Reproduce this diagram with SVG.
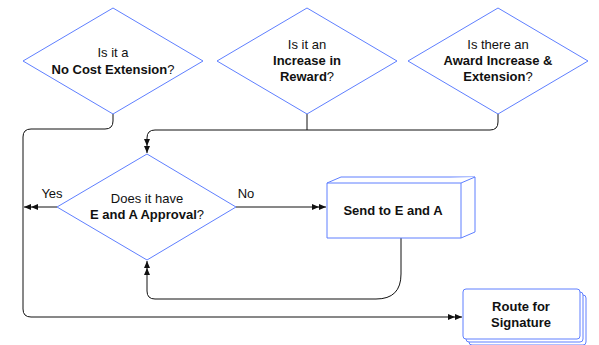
<svg xmlns="http://www.w3.org/2000/svg" width="599" height="345" viewBox="0 0 599 345">
<style>
.shape{fill:#ffffff;stroke:#5f7fff;stroke-width:1}
.t{font-family:"Liberation Sans",Arial,Helvetica,sans-serif;font-size:13px;fill:#111111;text-anchor:middle}
.b{font-weight:bold}
.edge{fill:none;stroke:#111111;stroke-width:1}
</style>
<defs>
<marker id="dbl" viewBox="0 0 14 8" refX="14" refY="4" markerWidth="14" markerHeight="8" markerUnits="userSpaceOnUse" orient="auto">
<path d="M0,1 L7,4 L0,7 Z M7,1 L14,4 L7,7 Z" fill="#111111"/>
</marker>
</defs>
<rect width="599" height="345" fill="#ffffff"/>
<g id="connectors">
<path class="edge" d="M113,114 L113,121 Q113,129 105,129 L31,129 Q23,129 23,137 L23,309 Q23,317 31,317 L462,317" marker-end="url(#dbl)"/>
<path class="edge" d="M57,207 L24,207" marker-end="url(#dbl)"/>
<path class="edge" d="M307,114 L307,130"/>
<path class="edge" d="M498,114 L498,122 Q498,130 490,130 L155,130 Q147,130 147,138 L147,153" marker-end="url(#dbl)"/>
<path class="edge" d="M236,207 L326,207" marker-end="url(#dbl)"/>
<path class="edge" d="M401,238 L401,274 Q401,299 376,299 L155,299 Q147,299 147,291 L147,261" marker-end="url(#dbl)"/>
</g>
<g id="d1">
<polygon class="shape" points="113,8 203,61 113,114 23,61"/>
<text class="t" x="113" y="57">Is it a</text>
<text class="t" x="113" y="74"><tspan class="b">No Cost Extension</tspan>?</text>
</g>
<g id="d2">
<polygon class="shape" points="307,8 397,61 307,114 217,61"/>
<text class="t" x="307" y="49">Is it an</text>
<text class="t b" x="307" y="65">Increase in</text>
<text class="t" x="307" y="81"><tspan class="b">Reward</tspan>?</text>
</g>
<g id="d3">
<polygon class="shape" points="498,8 588,61 498,114 408,61"/>
<text class="t" x="498" y="49">Is there an</text>
<text class="t b" x="498" y="65">Award Increase &amp;</text>
<text class="t" x="498" y="81"><tspan class="b">Extension</tspan>?</text>
</g>
<g id="d4">
<polygon class="shape" points="147,154 236,207 147,260 57,207"/>
<text class="t" x="147" y="203">Does it have</text>
<text class="t" x="147" y="219"><tspan class="b">E and A Approval</tspan>?</text>
</g>
<g id="yes">
<text class="t" x="52" y="198">Yes</text>
</g>
<g id="no">
<text class="t" x="246" y="198">No</text>
</g>
<g id="send">
<path class="shape" d="M327,183 L341,177 L475,177 L475,232 L461,238 L327,238 Z"/>
<path class="shape" d="M327,183 L461,183 L475,177 M461,183 L461,238"/>
<text class="t b" x="393" y="215">Send to E and A</text>
</g>
<g id="route">
<rect class="shape" x="469" y="295" width="117" height="50" rx="3"/>
<rect class="shape" x="466" y="292" width="117" height="50" rx="3"/>
<rect class="shape" x="463" y="289" width="117" height="50" rx="3"/>
<text class="t b" x="521" y="311">Route for</text>
<text class="t b" x="521" y="327">Signature</text>
</g>
</svg>
